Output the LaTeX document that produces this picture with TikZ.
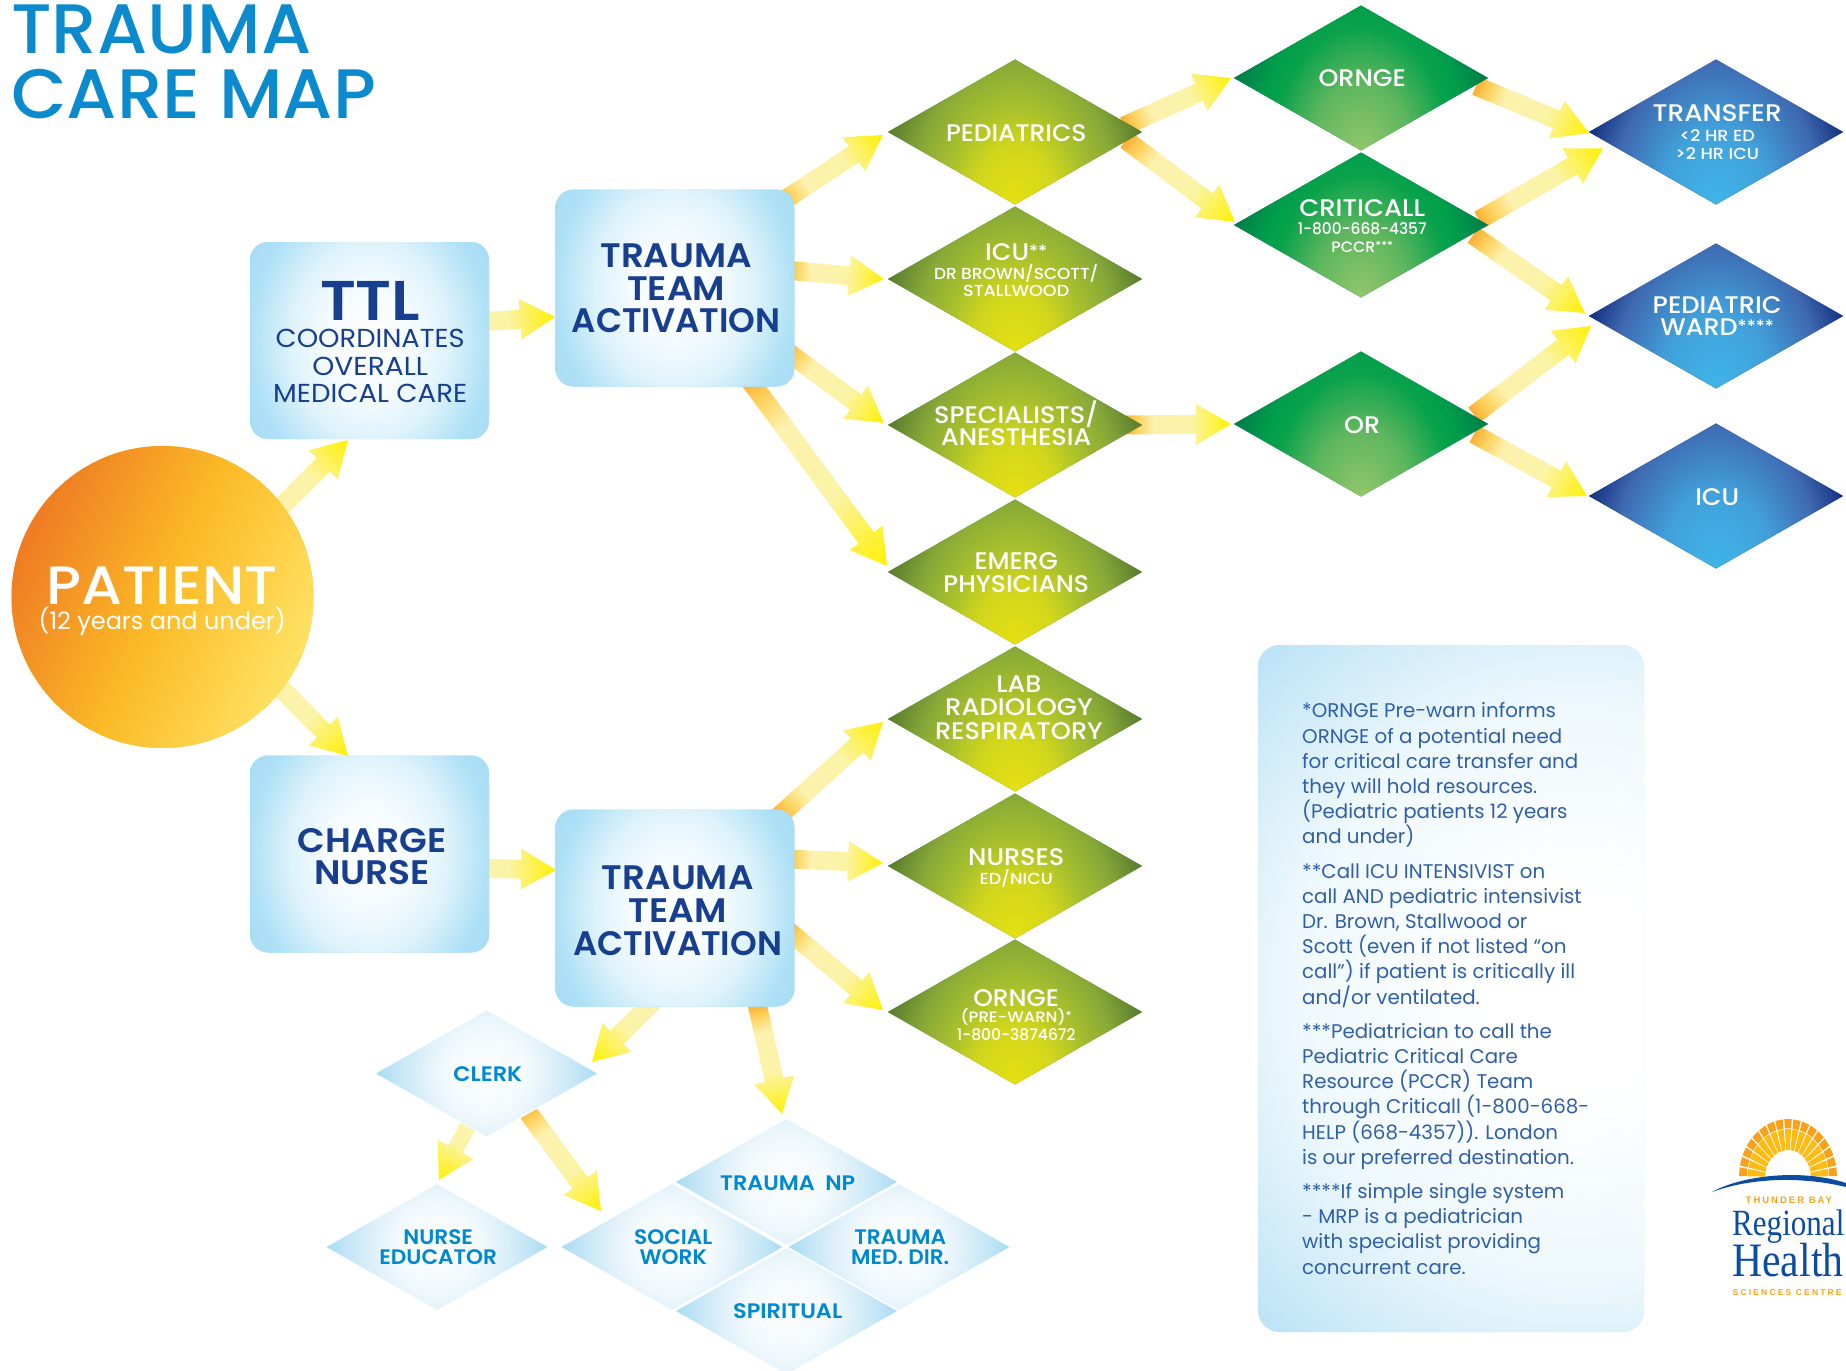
\documentclass[tikz,border=0pt]{standalone}
\usepackage{fontspec}
\setmainfont{Poppins}
\newfontfamily\pR{Poppins}
\newfontfamily\pM{Poppins Medium}
\newfontfamily\pS{Poppins SemiBold}
\newfontfamily\logoSerif{Liberation Serif}
\newfontfamily\logoSans[LetterSpace=21]{Liberation Sans Bold}
\newfontfamily\logoSansB[LetterSpace=25.5]{Liberation Sans Bold}
\usetikzlibrary{shapes.geometric,calc,backgrounds}
\pgfdeclarelayer{background}
\pgfsetlayers{background,main}

\definecolor{bluetitle}{HTML}{0B8ACD}
\definecolor{navy}{HTML}{173F8E}
\definecolor{lighttext}{HTML}{0089CF}
\definecolor{notetext}{HTML}{2F5FA8}

\definecolor{oA}{HTML}{FBAE36}\definecolor{oB}{HTML}{FDD05A}\definecolor{oC}{HTML}{FCF2AE}\definecolor{oD}{HTML}{FBF3A6}\definecolor{oE}{HTML}{FFF000}
\pgfdeclarehorizontalshading{arrowS}{100bp}{color(0bp)=(oA);color(25bp)=(oA);color(30bp)=(oB);color(38bp)=(oC);color(56bp)=(oD);color(75bp)=(oE);color(100bp)=(oE)}

\definecolor{yA}{HTML}{E6E012}\definecolor{yB}{HTML}{D2D61C}\definecolor{yC}{HTML}{AAC12C}\definecolor{yD}{HTML}{86A838}\definecolor{yE}{HTML}{577A2E}
\pgfdeclareradialshading{yelS}{\pgfpoint{0bp}{0bp}}{color(0bp)=(yA);color(7.5bp)=(yB);color(12.5bp)=(yC);color(18.75bp)=(yD);color(25bp)=(yE);color(50bp)=(yE)}

\definecolor{gA}{HTML}{93C66C}\definecolor{gB}{HTML}{5DB65E}\definecolor{gC}{HTML}{0AA24C}\definecolor{gD}{HTML}{009E4B}\definecolor{gE}{HTML}{007A49}
\pgfdeclareradialshading{grnS}{\pgfpoint{0bp}{0bp}}{color(0bp)=(gA);color(9bp)=(gB);color(16bp)=(gC);color(19bp)=(gD);color(25bp)=(gE);color(50bp)=(gE)}

\definecolor{bA}{HTML}{3FB5E9}\definecolor{bB}{HTML}{41A0DA}\definecolor{bC}{HTML}{3F68B0}\definecolor{bD}{HTML}{12307F}
\pgfdeclareradialshading{bluS}{\pgfpoint{0bp}{0bp}}{color(0bp)=(bA);color(10bp)=(bB);color(19bp)=(bC);color(25bp)=(bD);color(50bp)=(bD)}

\definecolor{lA}{HTML}{FBFDFE}\definecolor{lB}{HTML}{F4FAFD}\definecolor{lC}{HTML}{E3F2FA}\definecolor{lD}{HTML}{C4E6F6}\definecolor{lE}{HTML}{A4DAF2}
\pgfdeclareradialshading{ligS}{\pgfpoint{0bp}{0bp}}{color(0bp)=(lA);color(8.5bp)=(lB);color(13.5bp)=(lC);color(20bp)=(lD);color(25bp)=(lE);color(50bp)=(lE)}

\definecolor{xA}{HTML}{FFFFFF}\definecolor{xB}{HTML}{F5FBFE}\definecolor{xC}{HTML}{DFF3FB}\definecolor{xD}{HTML}{AEE0F6}\definecolor{xE}{HTML}{A6DDF5}
\pgfdeclareradialshading{boxS}{\pgfpoint{0bp}{0bp}}{color(0bp)=(xA);color(7.5bp)=(xB);color(13.75bp)=(xC);color(21bp)=(xD);color(25bp)=(xE);color(50bp)=(xE)}

\definecolor{nA}{HTML}{FFFFFF}\definecolor{nB}{HTML}{EEF8FC}\definecolor{nC}{HTML}{B8E1F6}
\pgfdeclareradialshading{noteS}{\pgfpoint{0bp}{0bp}}{color(0bp)=(nA);color(5bp)=(nA);color(15bp)=(nB);color(25bp)=(nC);color(50bp)=(nC)}

\definecolor{pA}{HTML}{EF7B24}\definecolor{pB}{HTML}{FBBA26}\definecolor{pC}{HTML}{FFE264}
\pgfdeclarehorizontalshading{patS}{100bp}{color(0bp)=(pA);color(25bp)=(pA);color(50bp)=(pB);color(75bp)=(pC);color(100bp)=(pC)}

\definecolor{sunA}{HTML}{FDBB14}\definecolor{sunB}{HTML}{F9A11B}\definecolor{logoBlue}{HTML}{0B4DA1}

\newcommand\tx[4][1.06]{\makebox[0pt][c]{\kern2.4pt\smash{\raisebox{-#2pt}{\scalebox{#1}[1]{\fontsize{#3}{#3}\selectfont #4}}}}}
\newcommand\sm[2][17]{\raisebox{3pt}{\fontsize{#1}{#1}\selectfont #2}}

\newcommand\garrow[6][9.5]{%
  \path let \p1=($(#2)+(#3)$), \p2=($(#4)+(#5)$),
    \n1={atan2(\y2-\y1,\x2-\x1)}, \n2={veclen(\x2-\x1,\y2-\y1)} in
    \pgfextra{\xdef\arrx{\x1}\xdef\arry{\y1}\xdef\arra{\n1}\xdef\arrl{\n2}};
  \begin{scope}[transform canvas={shift={(\arrx,\arry)},rotate=\arra}]
    \shade[shading=arrowS] (0pt,-#1pt) -- ({\arrl-#6pt},-#1pt) -- ({\arrl-#6pt},-20.5pt)
      -- (\arrl,0pt) -- ({\arrl-#6pt},20.5pt) -- ({\arrl-#6pt},#1pt) -- (0pt,#1pt) -- cycle;
  \end{scope}}

\tikzset{
  basenode/.style={inner sep=0pt,outer sep=0pt,text=white},
  titlenode/.style={inner sep=0pt,anchor=base west,text=bluetitle,font=\pM\fontsize{70}{70}\selectfont},
  gdia/.style={basenode,diamond,aspect=1.75,minimum width=254pt,minimum height=145pt},
  yeldia/.style={gdia,fill=yE,path picture={\shade[shading=yelS] (path picture bounding box.south) ellipse [x radius=137pt,y radius=193pt];}},
  grndia/.style={gdia,fill=gE,path picture={\shade[shading=grnS] (path picture bounding box.south) ellipse [x radius=137pt,y radius=193pt];}},
  bludia/.style={gdia,fill=bD,path picture={\shade[shading=bluS] (path picture bounding box.south) ellipse [x radius=137pt,y radius=193pt];}},
  ligdia/.style={basenode,diamond,aspect=1.75,minimum width=223pt,minimum height=127pt,text=lighttext,fill=lE,draw=white,line width=0.8pt,
     path picture={\shade[shading=ligS] (path picture bounding box.center) ellipse [x radius=112pt,y radius=116pt];}},
  tbox/.style={basenode,text=navy,rectangle,rounded corners=18pt,minimum width=239pt,minimum height=197pt,fill=xE,
     path picture={\shade[shading=boxS] (path picture bounding box.center) ellipse [x radius=142pt,y radius=178pt];}},
}

\begin{document}
\begin{tikzpicture}[x=1pt,y=-1pt]
\path[use as bounding box] (0,0) rectangle (1846,1370);

% title
\node[titlenode] (t1) at (11,54) {\scalebox{1.03}[1]{TRAUMA}};
\node[titlenode] (t2) at (11,118.5) {\scalebox{1.03}[1]{CARE MAP}};

% patient
\node[basenode,circle,minimum size=302pt,fill=pB,path picture={\shade[shading=patS,shading angle=-25] (path picture bounding box.center) circle (151pt);}] (pat) at (162.5,597)
  {\tx[1.09]{7.5}{54}{\pM\kern-3pt PATIENT}\tx[1]{32}{24}{\pR\kern-3pt (12 years and under)}};

% boxes
\node[tbox] (ttl) at (369.5,340.5) {\tx[1.11]{-20}{56}{\pS\kern-1pt TTL}\tx[1.05]{7}{26}{\pR\kern-1pt COORDINATES}\tx[1.08]{35}{26}{\pR\kern-1pt OVERALL}\tx[1.06]{62}{26}{\pR\kern-1pt MEDICAL CARE}};
\node[tbox] (ta1) at (675,288) {\tx[1.05]{-20.5}{34}{\pS TRAUMA}\tx[1.06]{12.5}{34}{\pS TEAM}\tx[1]{44.5}{34}{\pS ACTIVATION}};
\node[tbox] (chg) at (369.5,854) {\tx{-1.5}{34}{\pS\kern2.4pt CHARGE}\tx{30}{34}{\pS\kern2.4pt NURSE}};
\node[tbox] (ta2) at (675,908) {\tx[1.05]{-18.5}{34}{\pS\kern3pt TRAUMA}\tx[1.06]{14.5}{34}{\pS\kern3pt TEAM}\tx[1]{47.5}{34}{\pS\kern3pt ACTIVATION}};

% yellow-green column
\node[yeldia] (ped) at (1015,132) {\tx[1.04]{9}{24}{\pM PEDIATRICS}};
\node[yeldia] (icua) at (1015,279) {\tx{-19}{24}{\pM ICU\sm{**}}\tx{0}{16}{\pM DR BROWN/SCOTT/}\tx[1.1]{17.6}{16}{\pM STALLWOOD}};
\node[yeldia] (spec) at (1015,425) {\tx{-2}{24}{\pM SPECIALISTS/}\tx{20}{24}{\pM ANESTHESIA}};
\node[yeldia] (emerg) at (1015,572) {\tx[1.04]{-3}{24}{\pM EMERG}\tx[1.04]{20}{24}{\pM PHYSICIANS}};
\node[yeldia] (lab) at (1015,719) {\tx{-27}{24}{\pM\kern5pt LAB}\tx[1.08]{-4}{24}{\pM\kern5pt RADIOLOGY}\tx[1.07]{20}{24}{\pM\kern5pt RESPIRATORY}};
\node[yeldia] (nur) at (1015,866) {\tx{-1}{24}{\pM NURSES}\tx[1.09]{18}{16}{\pM ED/NICU}};
\node[yeldia] (orb) at (1015,1012) {\tx[1.04]{-6}{24}{\pM ORNGE}\tx[1.1]{10}{15}{\pM (PRE-WARN)\sm[11]{*}}\tx[.97]{28}{16}{\pM 1-800-3874672}};

% green column
\node[grndia] (orn) at (1361,78) {\tx{8.5}{24}{\pM ORNGE}};
\node[grndia] (crit) at (1361,225) {\tx[1.08]{-9}{24}{\pM CRITICALL}\tx[.96]{9}{16}{\pM 1-800-668-4357}\tx{27.6}{15}{\pM PCCR\sm[11]{***}}};
\node[grndia] (orr) at (1361,424) {\tx{9}{24}{\pM OR}};

% blue column
\node[bludia] (tra) at (1716,132) {\tx[1.1]{-11}{24}{\pM TRANSFER}\tx[1.1]{9}{16}{\pM <2 HR ED}\tx[1.1]{27.6}{16}{\pM >2 HR ICU}};
\node[bludia] (pw) at (1716,316) {\tx[1.07]{-3}{24}{\pM PEDIATRIC}\tx{19}{24}{\pM WARD\sm{****}}};
\node[bludia] (icub) at (1716,496) {\tx{9}{24}{\pM ICU}};

% light diamonds
\node[ligdia] (clerk) at (486.5,1073.5) {\tx[1.07]{7.5}{21}{\pS CLERK}};
\node[ligdia] (ned) at (437,1247) {\tx[1.03]{-3}{21}{\pS NURSE}\tx[1.03]{17}{21}{\pS EDUCATOR}};
\node[ligdia] (soc) at (672,1247) {\tx[1.03]{-3}{21}{\pS SOCIAL}\tx[1.03]{17}{21}{\pS WORK}};
\node[ligdia] (np) at (786.5,1182) {\tx{8}{21}{\pS TRAUMA\ \ NP}};
\node[ligdia] (tmd) at (899,1247) {\tx[1.03]{-3}{21}{\pS TRAUMA}\tx[1.03]{17}{21}{\pS MED. DIR.}};
\node[ligdia] (spi) at (786.5,1311) {\tx[1.07]{7}{21}{\pS SPIRITUAL}};

% note box
\node[basenode,rectangle,rounded corners=22pt,minimum width=386pt,minimum height=687pt,fill=nC,
  path picture={\shade[shading=noteS] ($(path picture bounding box.center)+(129,1.5)$) circle (480pt);}] (note) at (1451,988.5) {};
\node[inner sep=0pt,anchor=base west,align=left,text=notetext,font=\pR\fontsize{19.8}{25.2}\selectfont] (notetxt) at (1302,1274) {%
*ORNGE Pre-warn informs\\
ORNGE of a potential need\\
for critical care transfer and\\
they will hold resources.\\
(Pediatric patients 12 years\\
and under)\\[9pt]
**Call ICU INTENSIVIST on\\
call AND pediatric intensivist\\
Dr. Brown, Stallwood or\\
Scott (even if not listed “on\\
call”) if patient is critically ill\\
and/or ventilated.\\[9pt]
***Pediatrician to call the\\
Pediatric Critical Care\\
Resource (PCCR) Team\\
through Criticall (1-800-668-\\
HELP (668-4357)). London\\
is our preferred destination.\\[9pt]
****If simple single system\\
- MRP is a pediatrician\\
with specialist providing\\
concurrent care.};

% logo
\begin{scope}[shift={(1788,1177)},x=0.845pt,y=1pt]
  \foreach \i in {0,...,16}{
    \pgfmathsetmacro\aa{\i*180/17+0.9}
    \pgfmathsetmacro\ab{(\i+1)*180/17-0.9}
    \fill[sunA] (\aa:27) -- (\aa:48) -- (\ab:48) -- (\ab:27) -- cycle;
    \fill[sunB] (\aa:48.8) -- (\aa:58) -- (\ab:58) -- (\ab:48.8) -- cycle;
  }
\end{scope}
\fill[logoBlue] (1712,1192) .. controls (1740,1176) and (1800,1168) .. (1846,1183) -- (1846,1187) .. controls (1800,1176) and (1750,1178) .. (1712,1192) -- cycle;
\node[inner sep=0pt,anchor=base west,text=sunB,font=\logoSans\fontsize{9.5}{9.5}\selectfont] (lg1) at (1745.5,1203) {THUNDER BAY};
\node[inner sep=0pt,anchor=base west,text=logoBlue,font=\logoSerif\fontsize{37}{37}\selectfont,xscale=0.84] (lg2) at (1732,1235) {Regional};
\node[inner sep=0pt,anchor=base west,text=logoBlue,font=\logoSerif\fontsize{48}{48}\selectfont,xscale=0.87] (lg3) at (1732,1276) {Health};
\node[inner sep=0pt,anchor=base west,text=sunB,font=\logoSansB\fontsize{8.5}{8.5}\selectfont] (lg4) at (1732.5,1295) {SCIENCES CENTRE};

% connectors
\begin{pgfonlayer}{background}
\garrow{pat}{87.5,-59}{ttl}{-21.5,99.5}{35}
\garrow{pat}{87.5,60}{chg}{-21.5,-98}{35}
\garrow{ttl}{60.5,-15.5}{ta1}{-120,29}{35}
\garrow{chg}{60.5,13}{ta2}{-119,-38}{35}
\garrow{ta1}{105,-85}{ped}{-132,3}{35}
\garrow{ta1}{110,-18}{icua}{-131,0}{35}
\garrow{ta1}{110,62}{spec}{-131,-2}{35}
\garrow{ta1}{73,90}{emerg}{-128,-6}{35}
\garrow{ped}{109,-6}{orn}{-130,0}{35}
\garrow{ped}{111,8}{crit}{-126,-3}{35}
\garrow{spec}{111,0}{orr}{-130,0}{35}
\garrow{orn}{115,8}{tra}{-127,1}{35}
\garrow{crit}{118,-5}{tra}{-113,16.5}{35}
\garrow{crit}{112,10}{pw}{-131,-3}{35}
\garrow{orr}{113,-9}{pw}{-125,10}{35}
\garrow{orr}{113,10}{icub}{-129,0}{35}
\garrow{ta2}{103,-91}{lab}{-132,3}{35}
\garrow{ta2}{110,-49}{nur}{-132,-3}{35}
\garrow{ta2}{110,20}{orb}{-132,-2}{35}
\garrow{ta2}{5,67}{clerk}{105.5,-11.5}{35}
\garrow{ta2}{82,96}{np}{-4.5,-68}{35}
\garrow[8]{clerk}{3.5,11.5}{ned}{2,-67}{35}
\garrow{clerk}{37.5,33.5}{soc}{-71,-36}{35}
\end{pgfonlayer}
\end{tikzpicture}
\end{document}
